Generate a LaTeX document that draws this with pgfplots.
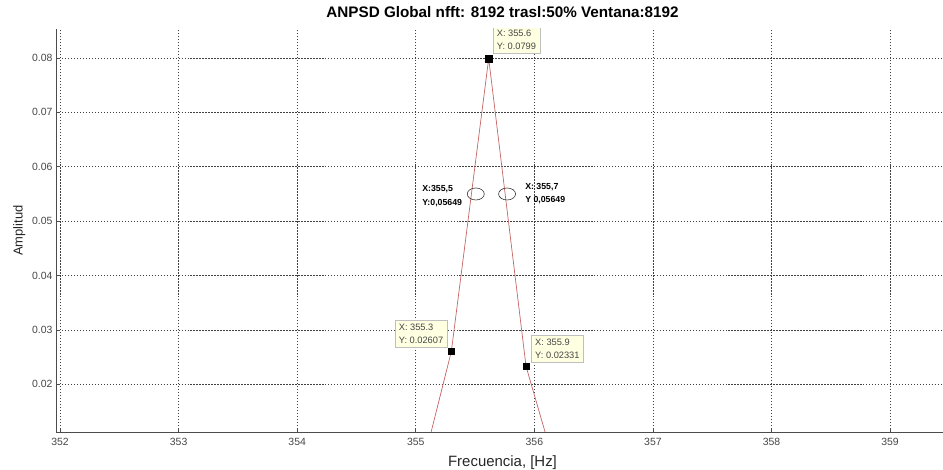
\documentclass[border=0pt]{standalone}
\usepackage{pgfplots}
\pgfplotsset{compat=1.18}
\usepackage{fontspec}
\setmainfont{Liberation Sans}
\definecolor{peak}{RGB}{196,100,100}
\definecolor{tipbg}{RGB}{255,255,225}
\definecolor{ticktxt}{RGB}{70,70,70}
\begin{document}
\begin{tikzpicture}[x=1bp,y=1bp]
\path[use as bounding box] (0,0) rectangle (943,470);
\begin{axis}[
  at={(56bp,38bp)}, anchor=south west,
  scale only axis, width=893bp, height=403bp,
  xmin=351.966, xmax=359.497,
  ymin=0.01125, ymax=0.08533,
  axis x line*=bottom, axis y line*=left,
  axis line style={-, draw=black!70, line width=0.8pt},
  xtick={352,353,...,359},
  ytick={0.02,0.03,...,0.08},
  scaled y ticks=false,
  yticklabel style={/pgf/number format/.cd, fixed, fixed zerofill, precision=2},
  xticklabel style={yshift=-3pt},
  /pgf/number format/assume math mode=true,
  tick label style={font=\fontsize{10.5}{12}\selectfont, text=ticktxt},
  tick align=inside,
  major tick length=4pt,
  tick style={black!70, line width=0.7pt},
  grid=major,
  major grid style={black!75, line width=0.6pt, dash pattern=on 1.5pt off 1.5pt},
  title={\bfseries ANPSD Global nfft: 8192 trasl:50\% Ventana:8192},
  title style={font=\fontsize{15.3}{17}\selectfont, at={(axis description cs:0.5,1)}, anchor=south, yshift=2pt},
  xlabel={Frecuencia, [Hz]},
  xlabel style={font=\fontsize{15}{17}\selectfont, text=black!85, yshift=-3pt},
  ylabel={Amplitud},
  ylabel style={font=\fontsize{13}{15}\selectfont, text=black!85, yshift=0pt},
  clip=true,
]
\addplot[peak, line width=0.7pt, mark=none] coordinates {
  (355.00, 0.0)
  (355.30, 0.02607)
  (355.615, 0.0799)
  (355.93, 0.02331)
  (356.24, 0.0)
};
\addplot[only marks, mark=square*, mark size=3.2pt, black] coordinates {
  (355.30, 0.02607)
  (355.615, 0.0799)
  (355.93, 0.02331)
};
\tikzset{tip/.style={fill=tipbg, draw=black!25, align=left, inner xsep=4pt, inner ysep=4pt,
      text=ticktxt, font=\fontsize{9.3}{12.5}\selectfont}}
\node[tip, anchor=south west, xshift=4pt, yshift=5pt]
  at (axis cs:355.615,0.0799) {X: 355.6\\Y: 0.0799};
\node[tip, anchor=south east, xshift=-4pt, yshift=4pt]
  at (axis cs:355.30,0.02607) {X: 355.3\\Y: 0.02607};
\node[tip, anchor=south west, xshift=5pt, yshift=4pt]
  at (axis cs:355.93,0.02331) {X: 355.9\\Y: 0.02331};
\draw[black!80, line width=0.6pt] (axis cs:355.506,0.0550) ellipse [x radius=8.5bp, y radius=6bp];
\draw[black!80, line width=0.6pt] (axis cs:355.770,0.0550) ellipse [x radius=8.5bp, y radius=6bp];
\node[anchor=east, inner sep=0pt, xshift=-13.5bp, yshift=-2.5bp, align=left,
      font=\bfseries\fontsize{8.8}{14}\selectfont]
  at (axis cs:355.506,0.0550) {X:355,5\\Y:0,05649};
\node[anchor=west, inner sep=0pt, xshift=18bp, yshift=0.5bp, align=left,
      font=\bfseries\fontsize{8.8}{13}\selectfont]
  at (axis cs:355.770,0.0550) {X: 355,7\\Y 0,05649};
\end{axis}
\end{tikzpicture}
\end{document}
